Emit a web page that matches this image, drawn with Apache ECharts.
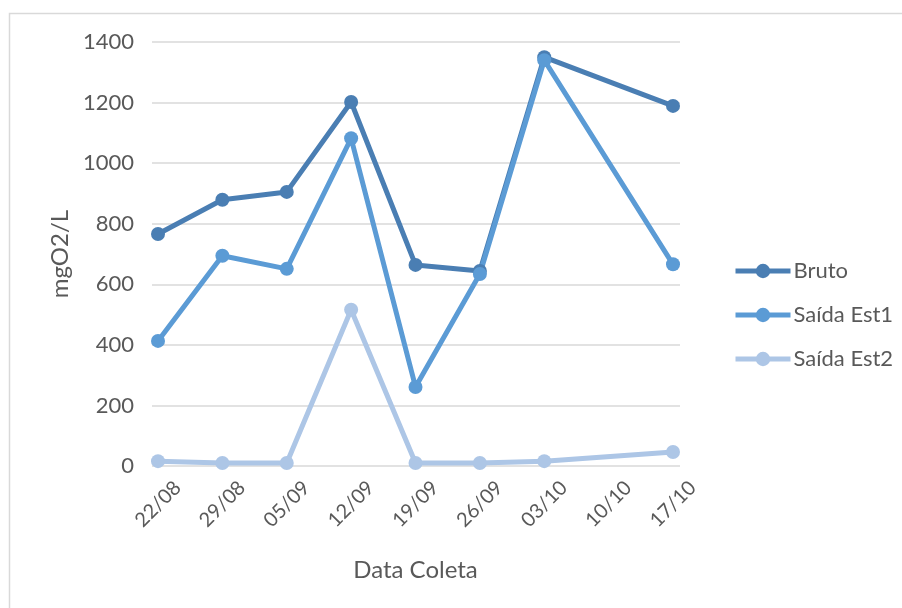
<!DOCTYPE html>
<html lang="pt">
<head>
    <meta charset="UTF-8">
    <title>mgO2/L por Data Coleta</title>
    <script src="https://cdn.jsdelivr.net/npm/echarts@6/dist/echarts.min.js"></script>
    <style>
        html, body { margin: 0; padding: 0; background: #fff; }
        #chart { width: 902px; height: 608px; }
    </style>
</head>
<body>
    <div id="chart"></div>
<script>
    var categories = ['22/08', '29/08', '05/09', '12/09', '19/09', '26/09', '03/10', '10/10', '17/10'];
    var bruto = [766, 879, 905, 1202, 664, 644, 1350, null, 1189];
    var saidaEst1 = [413, 694, 651, 1082, 261, 634, 1340, null, 666];
    var saidaEst2 = [16, 10, 10, 516, 10, 10, 16, null, 46];
    var yTicks = [0, 200, 400, 600, 800, 1000, 1200, 1400];

    var txt = '#595959';
    var font = 'Lato, "Open Sans", sans-serif';

    function serie(name, color, data) {
        return {
            name: name,
            type: 'line',
            data: data,
            connectNulls: true,
            symbol: 'circle',
            symbolSize: 14,
            color: color,
            lineStyle: { width: 5, color: color },
            itemStyle: { color: color }
        };
    }

    var chart = echarts.init(document.getElementById('chart'));
    chart.setOption({
        animation: false,
        textStyle: { fontFamily: font },
        graphic: [{
            type: 'rect',
            shape: { x: 9.5, y: 13.5, width: 1000, height: 1000 },
            style: { fill: 'none', stroke: '#d9d9d9', lineWidth: 1.5 }
        }],
        // grid 0 holds the data, grid 1 only draws the wider gridlines
        grid: [
            { left: 158, right: 229, top: 42, bottom: 142 },
            { left: 152, right: 222, top: 42, bottom: 142 }
        ],
        legend: {
            orient: 'vertical',
            left: 728,
            top: 255,
            itemGap: 22,
            itemWidth: 55,
            itemHeight: 18,
            lineStyle: { width: 5 },
            textStyle: { color: txt, fontSize: 22, fontFamily: font, padding: [0, 0, 0, -2] },
            data: ['Bruto', 'Saída Est1', 'Saída Est2']
        },
        xAxis: [{
            type: 'category',
            gridIndex: 0,
            data: categories,
            boundaryGap: false,
            name: 'Data Coleta',
            nameLocation: 'middle',
            nameGap: 92,
            nameTextStyle: { color: txt, fontSize: 24, fontFamily: font },
            axisLine: { show: false },
            axisTick: { show: false },
            axisLabel: {
                rotate: 45, align: 'center', verticalAlign: 'middle',
                color: txt, fontSize: 20, margin: 38, fontFamily: font
            }
        }, {
            type: 'category',
            gridIndex: 1,
            data: categories,
            show: false
        }],
        yAxis: [{
            type: 'value',
            gridIndex: 0,
            min: 0,
            max: 1400,
            interval: 200,
            name: 'mgO2/L',
            nameLocation: 'middle',
            nameGap: 84,
            nameTextStyle: { color: txt, fontSize: 24, fontFamily: font },
            axisLine: { show: false },
            axisTick: { show: false },
            axisLabel: {
                color: txt, fontSize: 22, margin: 24, fontFamily: font,
                formatter: function (v) { return yTicks.indexOf(v) >= 0 ? String(v) : ''; }
            },
            splitLine: { show: false }
        }, {
            type: 'value',
            gridIndex: 1,
            min: 0,
            max: 1400,
            interval: 200,
            axisLine: { show: false },
            axisTick: { show: false },
            axisLabel: { show: false },
            splitLine: { lineStyle: { color: '#d9d9d9', width: 1.5 } }
        }],
        series: [
            serie('Bruto', '#4a7eb3', bruto),
            serie('Saída Est1', '#5b9bd5', saidaEst1),
            serie('Saída Est2', '#adc6e6', saidaEst2)
        ]
    });
</script>
</body>
</html>
